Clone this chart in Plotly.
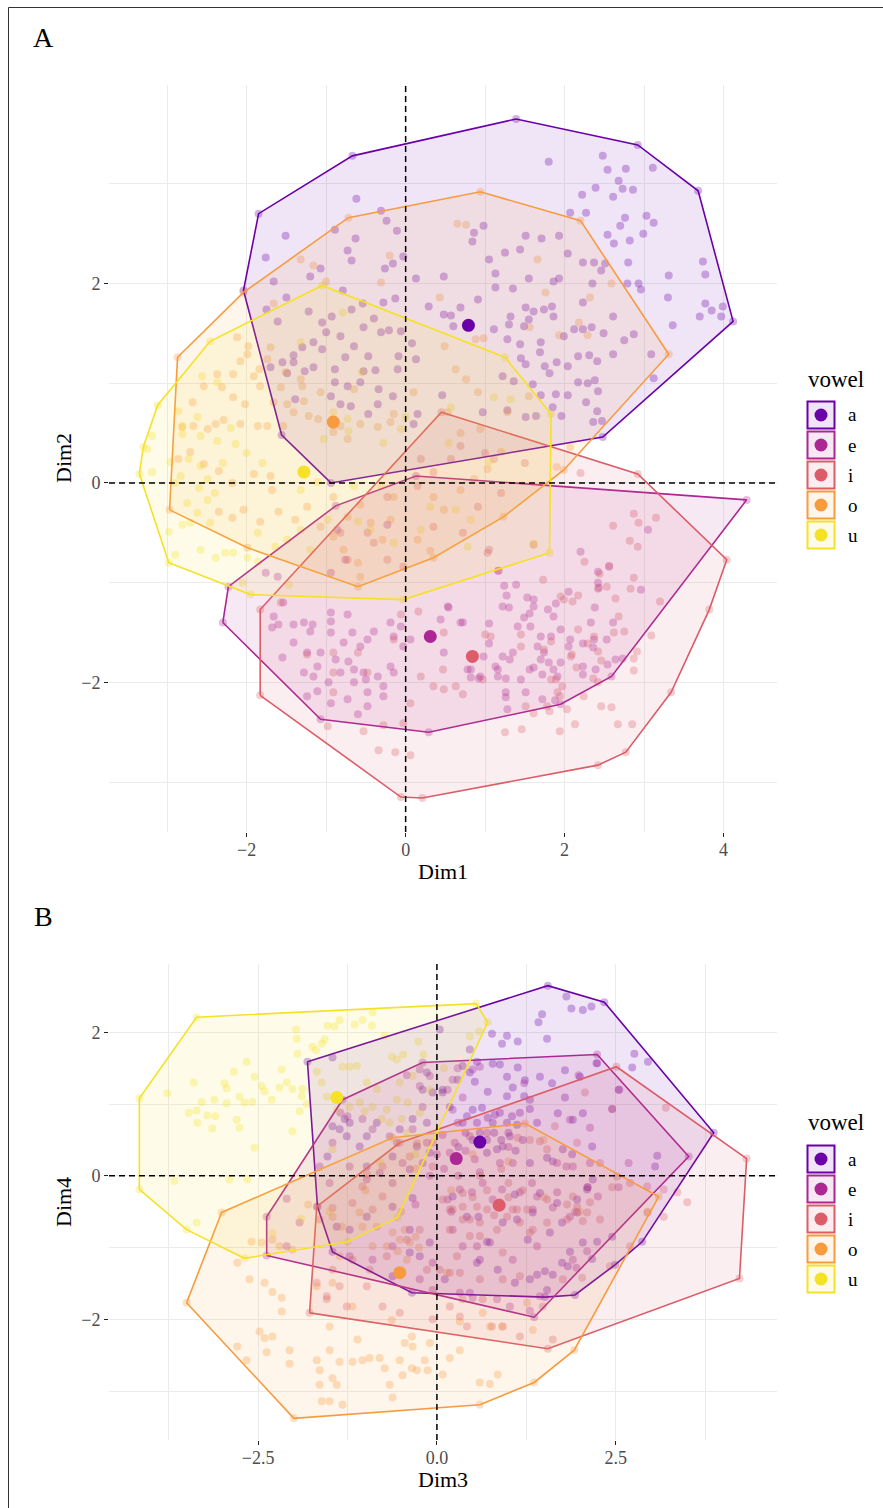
import plotly.graph_objects as go

# ---------------- data ----------------
VOWELS = ["a", "e", "i", "o", "u"]
COLORS = ["#6A00A8", "#AC2694", "#DC5C68", "#F89B3E", "#F5E126"]

# Panel A: (Dim1, Dim2)
A_a = [(-1.85,2.70),(-0.67,3.28),(1.39,3.65),(2.92,3.39),(3.68,2.93),(4.12,1.62),(2.48,0.46),(-0.94,0.00),(-1.56,0.48),(-2.04,1.93),
(1.80,3.22),(2.48,3.28),(2.54,3.14),(2.77,3.15),(2.68,3.03),(2.39,2.96),(2.73,2.95),(2.86,2.94),(2.22,2.89),(2.61,2.87),(3.11,3.16),(2.07,2.71),(2.27,2.71),(2.76,2.66),(3.03,2.68),(2.70,2.58),(3.12,2.61),(2.54,2.49),(2.99,2.50),(2.62,2.40),(2.82,2.43),(2.04,2.30),(1.51,2.48),(1.71,2.45),(1.93,2.48),(1.25,2.31),(1.44,2.34),(1.05,2.24),(0.98,2.58),(0.86,2.51),(0.84,2.42),(2.23,2.21),(2.37,2.21),(2.51,2.20),(2.46,2.13),(2.80,2.21),(2.79,2.00),(2.93,2.00),(2.96,1.94),(3.31,2.08),(3.74,2.22),(3.77,2.09),(3.30,1.86),(3.77,1.80),(3.85,1.73),(3.70,1.67),(3.99,1.77),(3.97,1.67),(3.36,1.58),(3.09,1.29),(3.12,1.05),(2.87,1.49),(2.75,1.43),(2.61,1.29),(2.49,1.50),(2.41,1.22),(2.31,1.28),(2.23,1.54),(2.12,1.54),(2.17,1.27),(2.04,1.17),(1.90,1.21),(1.81,1.10),(1.75,1.17),(1.51,1.19),(1.69,1.31),(1.70,1.41),(1.44,1.39),(1.45,1.25),(1.28,1.44),(1.11,1.54),(1.30,1.59),(1.49,1.57),(1.55,1.64),(1.61,1.72),(1.51,1.76),(1.32,1.67),(1.74,1.74),(1.84,1.77),(1.86,1.67),(1.35,1.95),(1.13,1.96),(1.55,2.05),(1.86,2.02),(1.93,2.05),(2.35,2.00),(2.23,1.81),(2.61,1.67),(2.34,1.56),(1.99,1.47),(2.29,1.00),(2.38,1.03),(2.42,0.92),(2.27,0.81),(2.41,0.72),(2.47,0.62),(2.36,0.61),(2.17,1.01),(2.04,0.88),(1.89,0.89),(1.85,0.76),(1.96,0.67),(1.70,0.88),(1.60,0.99),(1.36,1.02),(1.22,1.07),(1.28,0.73),(1.51,0.66),(1.64,0.67),(0.97,0.71),(0.91,1.84),(0.69,1.76),(0.60,1.57),(0.57,1.68),(0.48,2.07),(1.13,2.10),
(-0.62,2.85),(-1.51,2.48),(-1.76,2.26),(-0.89,2.54),(-0.63,2.45),(-0.73,2.33),(-0.68,2.23),(-0.31,2.73),(-0.24,2.63),(-0.11,2.53),(-0.03,2.27),(-0.16,2.20),(-0.26,2.15),(-1.07,2.15),(-1.20,2.07),(-1.66,2.02),(-1.50,1.86),(-0.79,1.93),(-0.54,1.80),(-0.28,1.81),(-0.13,1.85),(0.13,2.05),(0.29,1.77),(0.48,1.69),(-1.22,1.72),(-1.75,1.74),(-1.61,1.62),(-0.93,1.67),(-1.05,1.61),(-0.68,1.74),(-0.40,1.65),(-0.31,1.51),(-0.21,1.53),(-0.06,1.52),(0.08,1.40),(-0.53,1.56),(-0.65,1.37),(-0.82,1.47),(-1.00,1.51),(-1.05,1.34),(-1.16,1.41),(-1.30,1.36),(-1.41,1.28),(-1.41,1.21),(-1.55,1.21),(-1.70,1.16),(-1.49,1.10),(-1.27,1.12),(-1.16,1.16),(-0.89,1.14),(-0.76,1.26),(-0.53,1.12),(-0.47,1.27),(-0.38,1.13),(-0.57,1.01),(-0.73,0.97),(-0.89,1.01),(-0.34,0.94),(-0.16,0.87),(-0.10,1.14),(-0.09,1.27),(0.13,1.24),(-1.39,0.84),(-0.94,0.87),(-0.82,0.79),(-0.69,0.77),(-0.47,0.69),(-0.35,0.79),(0.15,0.69),(0.10,0.59),(0.46,0.88)]

A_e = [(-2.30,-1.40),(-2.23,-1.04),(-0.88,-0.23),(0.13,0.07),(4.29,-0.17),(2.59,-1.94),(1.95,-2.22),(0.29,-2.50),(-1.07,-2.37),
(-1.61,-0.94),(-1.76,-0.90),(-1.54,-1.20),(-1.66,-1.34),(-1.60,-1.42),(-1.68,-1.45),(-1.41,-1.42),(-1.28,-1.40),(-1.17,-1.42),(-1.20,-1.49),(-0.94,-1.39),(-0.94,-1.30),(-0.73,-1.32),(-1.55,-1.75),(-1.41,-1.60),(-1.24,-1.70),(-1.07,-1.70),(-0.94,-1.50),(-0.78,-1.60),(-0.67,-1.50),(-0.48,-1.57),(-0.40,-1.49),(-0.57,-1.64),(-0.72,-1.79),(-0.88,-1.77),(-1.11,-1.84),(-1.28,-1.90),(-1.16,-1.94),(-0.97,-2.00),(-0.82,-1.90),(-0.65,-1.87),(-0.53,-1.90),(-0.50,-1.97),(-0.65,-2.00),(-0.35,-1.94),(-0.19,-1.84),(-0.15,-1.90),(-0.28,-2.04),(-0.48,-2.10),(-0.73,-2.17),(-0.94,-2.21),(-1.11,-2.09),(-1.24,-2.14),(-0.48,-2.24),(-0.60,-2.32),(-0.28,-2.14),(-0.06,-1.44),(0.06,-1.57),(-0.03,-1.64),(0.44,-1.37),(0.69,-1.40),(0.53,-1.24),(-0.19,-1.40),(-0.15,-1.54),(0.78,-1.87),(0.82,-1.95),(0.94,-1.94),(1.16,-1.87),(-0.94,-0.90),(-0.76,-0.77),(-0.23,-0.42),(-0.86,-0.47),
(2.20,-0.69),(2.42,-1.00),(2.43,-1.05),(2.05,-1.09),(2.96,-1.07),(3.05,-0.47),(1.39,-1.02),(1.24,-1.03),(1.27,-1.13),(1.22,-1.24),(1.30,-1.25),(1.53,-1.15),(1.61,-1.17),(1.61,-1.24),(1.56,-1.31),(1.49,-1.35),(1.41,-1.44),(1.57,-1.44),(1.70,-1.54),(1.83,-1.54),(1.79,-1.27),(1.89,-1.21),(1.86,-1.34),(2.33,-1.40),(2.38,-1.25),(2.61,-1.40),(2.53,-1.57),(2.37,-1.57),(2.36,-1.65),(2.23,-1.61),(2.07,-1.57),(2.05,-1.64),(1.95,-1.47),(1.66,-1.64),(1.74,-1.70),(1.70,-1.77),(1.80,-1.80),(1.95,-1.80),(1.86,-1.87),(1.91,-1.94),(1.72,-1.92),(1.61,-1.85),(1.56,-1.87),(1.45,-1.97),(1.35,-1.70),(1.31,-1.77),(1.22,-1.74),(1.13,-1.84),(1.16,-1.94),(1.26,-1.96),(0.98,-1.74),(1.05,-1.61),(2.23,-1.84),(2.23,-1.92),(2.39,-1.87),(2.54,-1.82),(2.64,-1.77),(2.73,-1.76),(1.26,-2.10),(1.26,-2.15),(1.28,-2.27),(1.51,-2.10),(1.72,-2.17),(1.88,-2.18),(2.42,-0.89),(2.56,-0.84),(0.48,-1.70),(0.54,-1.25),(0.72,-1.40),(1.05,-1.41),(0.82,-1.87),(0.92,-1.96),(1.17,-0.88)]

A_i = [(-1.83,-1.27),(-1.83,-2.13),(-0.06,-3.15),(0.21,-3.16),(2.42,-2.83),(2.77,-2.70),(3.34,-2.10),(3.82,-1.27),(4.04,-0.77),(2.92,0.09),(0.45,0.71),
(2.87,-0.31),(2.93,-0.40),(3.15,-0.35),(2.61,-0.43),(2.82,-0.58),(2.92,-0.64),(2.25,-0.79),(2.56,-0.83),(2.44,-0.91),(2.53,-1.04),(2.42,-1.06),(2.83,-1.06),(2.87,-0.95),(2.64,-1.16),(3.20,-1.19),(2.68,-1.34),(2.62,-1.50),(2.75,-1.49),(3.09,-1.53),(2.91,-1.69),(2.87,-1.76),(2.87,-1.88),(2.42,-1.69),(2.29,-1.61),(2.15,-1.85),(2.09,-1.72),(2.42,-2.00),(2.24,-2.14),(2.46,-2.24),(2.59,-2.25),(2.67,-2.42),(2.85,-2.42),(2.13,-2.42),(2.03,-2.27),(1.94,-2.49),(1.46,-2.47),(1.25,-2.50),(1.51,-2.24),(1.61,-2.31),(1.81,-2.29),(1.91,-2.10),(1.97,-2.04),(1.83,-1.97),(1.45,-1.52),(1.07,-1.54),(1.00,-1.52),(0.72,-2.12),(0.63,-2.04),(0.48,-1.50),(0.48,-2.07),(0.47,-1.87),(2.37,-1.54),(2.17,-1.47),(2.08,-1.74),(2.46,-1.78),(2.36,-1.96),(1.95,-1.14),(2.17,-1.13),(1.99,-1.17),(2.10,-1.19),(1.61,-0.62),(1.16,-0.88),(1.05,-0.67),(1.73,-0.97),(1.45,-1.64),(1.74,-1.67),(1.83,-1.59),(1.89,-1.97),(1.78,-2.24),(1.94,-2.14),
(-1.57,-1.20),(-1.24,-1.72),(-0.91,-1.70),(-0.60,-1.70),(-0.91,-1.90),(-0.48,-1.90),(-0.91,-2.10),(-0.98,-2.44),(-0.53,-2.49),(-0.34,-2.68),(-0.13,-2.70),(0.06,-2.73),(-0.03,-2.41),(0.19,-1.94),(0.35,-2.04),(0.97,-1.97),(-0.28,-2.43),(0.06,-2.21),(-0.15,-1.57),(-0.06,-1.32),(0.16,-1.29),(-0.23,-0.14),(0.15,-0.03),(-0.82,-0.50),(-0.48,-0.50),(-0.40,-0.60),(-0.23,-0.77),(-0.73,-0.77),(-0.03,-0.84),(0.35,-0.44),(1.03,-0.70),(0.72,-0.50),(0.91,-0.24),(1.11,0.24),(0.35,0.11),(0.57,0.24),(0.69,0.37),(0.19,0.24),(1.00,0.30),(1.50,0.20),(2.20,0.10),(1.20,-0.10)]

A_o = [(-2.87,1.26),(-2.04,1.91),(-0.72,2.66),(0.94,2.92),(2.20,2.63),(3.31,1.29),(1.99,0.13),(1.23,-0.34),(0.35,-0.75),(-0.60,-1.04),(-1.99,-0.65),(-2.97,-0.27),
(-1.32,2.24),(-1.16,2.18),(-1.00,2.02),(-0.31,2.01),(-0.20,2.28),(0.43,1.86),(-1.66,1.80),(-2.12,1.46),(-1.98,1.37),(-1.99,1.29),(-2.08,1.22),(-1.70,1.36),(-1.74,1.24),(-1.84,1.14),(-1.91,1.07),(-2.17,1.09),(-2.37,1.09),(-2.54,0.97),(-2.31,0.96),(-2.17,0.86),(-2.02,0.79),(-1.83,0.97),(-1.57,0.96),(-1.51,1.11),(-1.32,1.04),(-1.30,0.97),(-1.66,0.81),(-1.49,0.79),(-1.28,0.82),(-1.22,0.67),(-1.41,0.71),(-1.54,0.57),(-1.74,0.57),(-1.86,0.57),(-2.08,0.59),(-2.29,0.63),(-2.39,0.59),(-2.49,0.54),(-2.67,0.57),(-2.81,0.56),(-2.68,0.81),(-0.82,0.57),(-0.57,0.59),(-0.35,0.56),(-0.19,0.61),(0.10,0.91),(-0.15,0.69),(-0.65,0.94),(-1.07,0.91),(-1.10,0.64),(-0.73,0.44),(-0.91,0.51),
(-2.86,0.24),(-2.71,0.31),(-2.54,0.19),(-2.35,0.12),(-2.18,0.00),(-1.91,0.09),(-1.70,0.07),(-1.68,-0.07),(-2.04,-0.27),(-2.35,-0.29),(-2.18,-0.35),(-1.83,-0.39),(-1.60,-0.29),(-1.39,-0.37),(-1.24,-0.24),(-1.07,-0.44),(-0.91,-0.54),(-0.78,-0.67),(-0.60,-0.80),(-0.57,-0.94),(-0.44,-0.40),(-0.29,-0.57),(-0.19,-0.37),(-0.15,-0.14),(-0.91,-0.14),(-0.73,-0.34),(-0.57,-0.22),(0.15,-0.57),(0.31,-0.68),(0.35,-0.14),(0.48,-0.27),(0.69,-0.07),(0.86,0.04),(1.03,0.14),(1.20,0.31),
(0.65,2.60),(0.76,2.59),(1.66,2.24),(1.76,1.91),(2.59,2.00),(2.32,1.86),(2.18,1.61),(2.29,1.48),(1.93,1.48),(1.56,1.56),(0.98,1.45),(0.88,1.44),(0.49,1.37),(0.63,1.14),(0.76,1.04),(0.91,0.91),(1.55,0.87),(2.07,0.36),(1.90,0.16),(1.28,0.71),(0.94,0.54),(0.69,0.50),(0.53,0.71)]

A_u = [(-1.05,1.98),(-2.46,1.42),(-3.12,0.78),(-3.30,0.36),(-3.35,0.09),(-2.98,-0.80),(-1.95,-1.12),(-0.03,-1.17),(1.81,-0.70),(1.83,0.69),(1.25,1.26),
(-2.56,1.07),(-2.37,1.01),(-2.86,0.72),(-2.81,0.57),(-2.62,0.66),(-2.81,0.49),(-2.58,0.47),(-2.37,0.42),(-2.14,0.39),(-3.19,0.47),(-0.79,1.71),(-1.32,1.41),(-0.55,1.11),(-0.73,0.64),(-0.72,0.52),(-0.91,0.71),(-1.03,0.44),(-0.28,0.40),(0.00,0.66),(-0.06,0.54),
(-3.25,0.34),(-3.19,0.11),(-2.96,0.21),(-2.83,0.07),(-2.73,0.24),(-2.58,0.17),(-2.49,0.04),(-2.98,-0.49),(-2.81,-0.42),(-2.71,-0.40),(-2.90,-0.72),(-2.58,-0.67),(-2.39,-0.75),(-2.27,-0.70),(-2.17,-0.70),(-1.99,-0.75),(-1.86,-0.79),(-1.64,-0.64),(-1.47,-1.02),(-2.05,-1.00),(-2.49,-0.17),(-2.62,-0.30),(-2.46,-0.40),(-2.75,-0.20),(-1.86,-0.50),(-1.49,-0.57),(-1.32,-0.47),(-1.20,-0.67),(-0.98,-0.37),(-0.60,-0.39),(-0.44,-0.47),(-0.15,-0.60),(0.19,-0.47),(0.31,-0.24),(0.63,-0.27),(0.82,-0.37),(0.78,-0.64),(-1.32,-0.07),(-1.11,0.01),(-0.65,-0.03),(-0.31,-0.03),(1.11,0.86),(1.32,0.84),(0.57,0.76),(0.54,0.40),(1.05,0.21),(1.61,-0.61),
(-2.30,0.20),(-2.20,0.55),(-2.00,0.30),(-1.80,0.20),(-2.60,-0.05),(-2.90,0.00),(-2.40,-0.10)]

A_centroids = [(0.79,1.58),(0.31,-1.54),(0.84,-1.74),(-0.91,0.61),(-1.28,0.11)]

# Panel B: (Dim3, Dim4)
B_a = [(-1.81,1.59),(1.55,2.65),(2.34,2.42),(3.87,0.60),(2.87,-0.92),(2.49,-1.24),(1.93,-1.66),(1.51,-1.69),(-0.35,-1.63),(-1.46,-1.06),(-1.67,-0.43),
(1.81,2.50),(1.88,2.33),(2.04,2.31),(2.16,2.36),(1.47,2.25),(1.42,2.14),(1.54,1.91),(1.13,1.87),(0.91,1.84),(0.98,1.95),(0.77,1.98),(2.76,1.70),(2.95,1.59),(2.73,1.51),(1.79,1.47),(2.00,1.38),(2.24,1.57),(1.44,1.38),(1.61,1.29),(1.23,1.33),(0.98,1.38),(0.88,1.55),(0.78,1.56),(1.13,1.51),(0.56,1.59),(0.46,1.44),(0.36,1.53),(0.29,1.34),(0.53,1.31),(0.71,1.17),(0.98,1.11),(1.06,1.23),(1.22,1.11),(1.30,1.06),(1.79,1.09),(2.54,1.20),(2.45,0.93),(2.04,0.87),(1.90,0.78),(1.69,0.87),(1.40,0.74),(1.30,0.93),(1.16,0.88),(1.05,0.83),(0.88,0.88),(0.81,0.85),(0.71,0.81),(0.63,0.95),(0.50,0.92),(0.42,0.83),(0.36,0.74),(0.56,0.74),(0.78,0.74),(0.98,0.74),(1.12,0.71),(2.17,0.41),(3.08,0.28),(3.05,0.13),(1.54,0.25),(1.62,0.20),(1.30,0.18),(1.76,0.37),(1.89,0.30),(2.18,-0.05),(2.11,-0.16),(1.96,-0.51),(1.02,0.55),(0.92,0.41),(0.84,0.37),(0.70,0.32),(0.08,1.16),(0.04,2.04),(0.46,1.76),(0.18,0.96),
(-1.46,1.65),(-1.29,0.79),(-1.46,0.69),(-1.36,0.65),(-1.22,0.74),(-1.26,0.55),(-0.98,0.55),(-1.53,0.27),(-1.08,0.41),(-0.84,0.74),(-0.20,1.20),(-0.06,1.16),(-0.14,1.44),(0.08,1.20),(-0.34,0.79),(-0.14,0.74),(-0.52,0.65),(-0.62,0.27),(-0.28,0.41),(-0.10,0.32),(-0.38,0.09),(-0.98,0.13),
(-0.62,-0.43),(-0.34,-0.31),(0.22,-0.29),(0.42,-0.57),(0.74,-0.93),(0.60,-1.17),(-0.10,-0.93),(-0.24,-1.12),(-1.40,-0.71),(-1.22,-0.75),(-0.98,-0.57),(-0.38,-0.75),(-0.38,-1.07),(0.11,-1.44),(-0.62,-1.40),
(0.58,-0.57),(0.70,-0.92),(0.56,-1.21),(0.85,-1.31),(1.09,-1.49),(1.30,-1.44),(1.40,-1.38),(1.51,-1.33),(1.62,-1.38),(1.54,-1.59),(1.83,-1.26),(1.75,-1.21),(1.86,-1.06),(2.04,-0.93),(2.24,-0.92),(2.17,-1.16),(2.45,-0.85),(1.75,-0.65),(1.58,-0.79),(1.27,-0.89),(1.34,-0.51),(1.12,-0.61),(0.92,-0.65),(1.09,-0.26),(1.44,-0.24),(1.68,-0.38),(1.96,-0.33),(2.10,-0.19),
(0.60,0.60),(0.80,0.60),(1.00,0.60),(0.40,0.60),(0.50,0.50),(0.70,0.50),(0.90,0.50),(1.20,0.50),(0.30,0.40),(1.10,0.35)]

B_e = [(-1.32,1.06),(-0.20,1.58),(2.24,1.69),(3.52,0.27),(1.36,-1.97),(-2.38,-1.11),(-2.38,-0.57),
(2.23,1.57),(1.98,1.40),(1.22,1.29),(2.55,1.20),(1.86,0.78),(2.14,0.67),(1.68,0.18),(1.81,0.13),(1.90,0.13),(2.14,0.18),(2.10,-0.16),(2.25,-0.29),(2.54,-0.16),(2.68,0.18),(1.06,0.18),(0.88,0.18),(0.53,0.23),(0.46,0.55),(0.25,0.46),(0.18,0.32),(0.08,0.57),(0.29,0.74),(0.22,0.92),(0.36,1.09),(0.15,1.20),(0.22,1.34),(0.50,1.48),(0.60,1.52),(0.29,1.50),(1.16,-0.23),(1.33,-0.10),(1.40,-0.29),(1.68,-0.23),(0.91,-0.19),(0.64,-0.10),(0.78,-0.33),(0.49,-0.23),(0.32,-0.19),(0.15,-0.33),(1.34,-0.47),(1.62,-0.44),(1.86,-0.57),
(-1.35,0.88),(-1.25,0.83),(-1.04,0.79),(-0.90,0.65),(-0.66,0.55),(-0.56,0.46),(-0.34,0.65),(-0.14,0.46),(-0.20,0.96),(-0.24,1.25),(-0.10,1.39),(-0.24,1.48),(-0.42,1.40),(-1.46,0.46),(-1.64,0.13),(-1.50,-0.10),(-1.22,0.13),(-0.98,-0.05),(-0.80,0.04),(-0.62,-0.10),(-0.48,0.18),(-0.20,0.18),
(-2.10,-0.32),(-1.92,-0.65),(-2.10,-0.98),(-0.52,-1.35),(-0.24,-1.44),(-0.06,-1.59),(0.32,-1.63),(0.50,-1.70),(-1.22,-1.12),(-0.90,-1.17),(-0.62,-0.98),(-0.06,-1.21),(0.56,-0.98),
(0.46,-1.63),(0.84,-1.72),(1.02,-1.82),(1.30,-1.88),(1.44,-1.68),(1.90,-1.17),(1.95,-1.28),(2.10,-1.05),(1.40,-0.98),(1.06,-1.17),(0.36,-0.98),(0.22,-0.75),
(0.10,0.10),(0.30,0.00),(0.00,0.30),(0.40,0.35),(-0.10,0.00),(0.60,0.05),(0.20,-0.50),(-0.30,-0.40),(0.70,0.60),(1.00,0.40)]

B_i = [(2.51,1.52),(4.33,0.24),(4.23,-1.43),(1.55,-2.41),(-1.78,-1.91),(-1.68,-0.43),(-0.52,0.46),
(2.07,1.16),(2.45,0.93),(3.20,0.95),(1.13,0.53),(1.30,0.50),(1.44,0.48),(1.65,0.69),(1.54,0.37),(1.96,0.46),(2.28,0.18),(2.52,-0.01),(2.70,-0.10),(2.94,-0.15),(3.17,-0.19),(3.36,-0.23),(3.50,-0.37),(3.17,-0.57),(1.90,-0.29),(1.96,-0.43),(1.54,-0.33),(1.26,-0.47),(1.06,-0.47),(0.88,-0.37),(0.70,-0.47),(0.56,-0.43),(0.36,-0.43),(0.98,-0.57),(1.16,-0.65),(1.34,-0.75),(0.84,-0.75),(0.60,-0.65),(0.36,-0.61),(0.18,-0.47),(0.18,-0.75),(0.46,-0.84),(1.54,-0.65),(1.82,-0.61),(2.14,-0.37),
(1.82,-0.40),(1.93,-0.50),(2.10,-0.51),(2.04,-0.63),(2.28,-0.61),(2.45,-0.16),(2.94,-0.51),(2.70,-0.98),(2.42,-1.26),(2.03,-1.42),(1.76,-1.44),(1.48,-1.82),(1.62,-2.28),(1.16,-2.24),(0.92,-2.10),(0.77,-2.10),(0.64,-1.72),(0.36,-1.72),(0.18,-1.82),(0.60,-1.44),(0.92,-1.44),(1.16,-1.40),(0.32,-1.35),(0.04,-1.31),(0.28,-1.12),(0.92,-1.07),(0.60,-0.84),(0.46,-0.61),(0.22,-0.47),(0.08,-0.33),(0.36,-0.24),(1.12,-0.47),(1.30,-0.79),
(-1.64,-0.61),(-1.46,-0.45),(-1.18,-0.38),(-0.90,-0.47),(-0.76,-0.29),(-0.42,-0.89),(-0.24,-0.75),(-0.14,-1.31),(0.18,-1.35),(-0.70,-1.12),(-0.94,-1.31),(-1.18,-1.17),(-1.46,-1.31),(-1.68,-1.49),(-1.54,-1.72),(-1.26,-1.82),(-0.76,-1.82),(-0.52,-1.91),(-0.06,-2.00),(0.32,-1.96),(0.42,-2.10),(-1.54,-1.68),(-1.36,-1.54),(-0.98,-1.54),
(-0.98,0.02),(-0.38,0.27),(-0.76,0.13),(-0.06,0.13),(-1.04,-0.15),(-0.28,0.45),(-0.06,0.46),
(0.70,-0.20),(1.00,-0.30),(0.80,-0.55),(1.20,-0.20),(0.50,-0.30),(1.00,-0.10),(0.90,0.10),(0.60,0.00)]

B_o = [(3.10,-0.29),(1.23,0.73),(-0.62,0.53),(-3.01,-0.51),(-3.50,-1.77),(-2.00,-3.38),(0.60,-3.19),(1.36,-2.88),(1.92,-2.43),
(-2.59,-0.92),(-2.45,-0.93),(-2.30,-0.89),(-2.20,-0.98),(-2.02,-1.03),(-2.79,-1.21),(-2.62,-1.44),(-2.41,-1.49),(-2.30,-1.62),(-2.17,-1.70),(-2.17,-1.89),(-2.48,-2.17),(-2.41,-2.26),(-2.30,-2.24),(-2.79,-2.38),(-2.66,-2.57),(-2.38,-2.46),(-2.06,-2.43),(-2.06,-2.62),(-1.68,-2.57),(-1.50,-2.43),(-1.36,-2.59),(-1.64,-2.71),(-1.46,-2.82),(-1.40,-2.91),(-1.64,-2.91),(-1.61,-3.14),(-1.50,-3.14),(-1.32,-3.19),(-0.62,-3.09),(-0.66,-2.91),(-1.18,-2.59),(-1.04,-2.57),(-0.94,-2.54),(-0.80,-2.54),(-0.73,-2.68),(-0.52,-2.57),(-0.48,-2.78),(-0.35,-2.68),(-0.28,-2.71),(-0.13,-2.71),(-0.17,-2.57),(-0.34,-2.38),(-0.45,-2.33),(-0.35,-2.24),(-0.10,-2.33),(0.18,-2.54),(-0.63,-2.01),(-1.11,-2.28),(-1.50,-2.10),(0.60,-2.88),(0.74,-2.90),(0.85,-2.77),(0.32,-2.03),(0.32,-2.43),
(-1.46,-0.57),(-1.33,-0.71),(-1.08,-0.51),(-1.04,-0.71),(-0.84,-0.71),(-0.52,-0.89),(-0.38,-0.93),(-0.42,-1.17),(-0.70,-0.98),(-0.62,-0.79),(-0.90,-0.98),(-1.36,-1.12),(-1.46,-1.49),(-1.18,-1.82),(0.14,-1.35),(-1.68,-1.54),
(0.64,-1.91),(0.74,-2.10),(0.91,-2.10),(0.08,-2.77),(1.26,-1.77),(1.34,-2.15),(2.95,-0.50),(1.49,0.50),
(0.50,0.30),(1.00,0.20),(1.50,-0.30),(2.00,-0.50),(0.20,-0.20),(-0.30,0.10),(-1.00,-0.20),(-1.80,-0.40),(-0.50,-0.50),(-0.45,-0.75),(-0.30,-0.85),(-0.55,-1.05),(-0.25,-1.00)]

B_u = [(-3.36,2.21),(-4.16,1.08),(-4.16,-0.19),(-3.50,-0.75),(-2.69,-1.15),(-1.25,-0.92),(-0.55,-0.58),(0.71,2.14),(0.55,2.40),
(-0.90,2.28),(-1.36,2.17),(-1.53,2.09),(-1.43,2.08),(-1.15,2.11),(-1.04,2.17),(-0.91,2.09),(-1.97,2.04),(-1.96,1.91),(-1.57,1.90),(-1.61,1.84),(-1.74,1.80),(-1.69,1.75),(-1.95,1.70),(-2.66,1.59),(-2.84,1.45),(-2.55,1.38),(-3.40,1.30),(-2.97,1.29),(-2.94,1.22),(-2.45,1.25),(-2.41,1.18),(-2.17,1.48),(-2.31,1.06),(-2.76,1.10),(-2.69,1.02),(-2.58,1.03),(-3.11,1.06),(-3.29,1.03),(-2.94,1.01),(-3.47,0.88),(-3.36,0.91),(-3.21,0.84),(-3.10,0.83),(-3.35,0.74),(-3.77,1.15),(-2.80,0.78),(-2.76,0.67),(-3.14,0.66),(-2.55,0.39),(-2.02,0.62),(-2.90,-0.05),(-2.65,-0.05),(-3.67,-0.07),(-2.10,1.30),(-2.02,1.21),(-1.88,1.21),(-1.89,1.11),(-1.82,1.00),(-1.92,0.90),(-2.20,1.23),
(-1.32,1.52),(-1.22,1.52),(-1.12,1.53),(-0.98,1.30),(-0.84,1.21),(-0.63,1.66),(-0.56,1.62),(-0.47,1.69),(-0.26,1.87),(-0.19,1.69),(-0.73,1.95),(-0.34,1.39),(-0.52,1.30),(-0.56,1.06),(-0.70,0.92),(-0.90,0.96),(-1.08,1.02),(-1.22,0.96),(-1.54,1.10),(-1.61,1.30),(-1.68,1.45),(-1.40,0.92),(-1.01,0.90),(-0.77,0.79),(-0.66,0.74),(-0.49,0.79),(-0.41,1.02),(-0.24,0.88),(-0.42,0.60),(-1.46,0.37),(0.59,2.01),(0.46,1.94),(-3.36,-0.65),
(-0.10,1.20),(0.10,1.50),(-0.30,0.30),(-0.80,0.20),(-1.90,-0.60),(-2.30,-0.80),(-1.50,-0.50)]

B_centroids = [(0.60,0.47),(0.27,0.24),(0.87,-0.41),(-0.52,-1.35),(-1.40,1.09)]

PANEL_A = [A_a, A_e, A_i, A_o, A_u]
PANEL_B = [B_a, B_e, B_i, B_o, B_u]

# ---------------- helpers ----------------
W, H = 883, 1508
SERIF = "Liberation Serif, Times New Roman, serif"

def px(x):
    return x / W

def py(y):
    return 1 - y / H

def rgba(hexc, a):
    h = hexc.lstrip("#")
    r, g, b = int(h[0:2], 16), int(h[2:4], 16), int(h[4:6], 16)
    return f"rgba({r},{g},{b},{a})"

def convex_hull(points):
    pts = sorted(set(points))
    if len(pts) <= 2:
        return pts
    def cross(o, a, b):
        return (a[0]-o[0])*(b[1]-o[1]) - (a[1]-o[1])*(b[0]-o[0])
    lower, upper = [], []
    for p in pts:
        while len(lower) >= 2 and cross(lower[-2], lower[-1], p) <= 0:
            lower.pop()
        lower.append(p)
    for p in reversed(pts):
        while len(upper) >= 2 and cross(upper[-2], upper[-1], p) <= 0:
            upper.pop()
        upper.append(p)
    return lower[:-1] + upper[:-1]

def expanded_range(groups, k):
    vals = [p[k] for g in groups for p in g]
    lo, hi = min(vals), max(vals)
    pad = 0.05 * (hi - lo)
    return [lo - pad, hi + pad]

fig = go.Figure()

def add_panel(groups, centroids, xa, ya):
    for pts, col in zip(groups, COLORS):
        fig.add_trace(go.Scatter(
            x=[p[0] for p in pts], y=[p[1] for p in pts], mode="markers",
            marker=dict(size=8, color=rgba(col, 0.3), line=dict(width=0)),
            xaxis=xa, yaxis=ya, showlegend=False, hoverinfo="skip"))
    for pts, col in zip(groups, COLORS):
        hull = convex_hull(pts)
        hull = hull + [hull[0]]
        fig.add_trace(go.Scatter(
            x=[p[0] for p in hull], y=[p[1] for p in hull], mode="lines",
            fill="toself", fillcolor=rgba(col, 0.1),
            line=dict(color=col, width=1.6),
            xaxis=xa, yaxis=ya, showlegend=False, hoverinfo="skip"))
    for c, col in zip(centroids, COLORS):
        fig.add_trace(go.Scatter(
            x=[c[0]], y=[c[1]], mode="markers",
            marker=dict(size=13, color=col, line=dict(width=0)),
            xaxis=xa, yaxis=ya, showlegend=False, hoverinfo="skip"))

add_panel(PANEL_A, A_centroids, "x", "y")
add_panel(PANEL_B, B_centroids, "x2", "y2")

XDOM = [px(109), px(777)]
grid = dict(showgrid=True, gridcolor="#EBEBEB", gridwidth=1.3, zeroline=False,
            showline=False, ticks="outside", ticklen=4, tickwidth=1.4,
            tickcolor="#222222", tickfont=dict(family=SERIF, size=18, color="#4D4D4D"))

def minor(d):
    return dict(dtick=d, tick0=0, showgrid=True, gridcolor="#EBEBEB", gridwidth=0.7, ticks="")

fig.update_layout(
    width=W, height=H, margin=dict(l=0, r=0, t=0, b=0, autoexpand=False),
    paper_bgcolor="white", plot_bgcolor="white",
    xaxis=dict(domain=XDOM, range=expanded_range(PANEL_A, 0), anchor="y",
               tick0=0, dtick=2, minor=minor(1), ticklabelstandoff=-3, **grid),
    yaxis=dict(domain=[py(832), py(85)], range=expanded_range(PANEL_A, 1), anchor="x",
               tick0=0, dtick=2, minor=minor(1), **grid),
    xaxis2=dict(domain=XDOM, range=expanded_range(PANEL_B, 0), anchor="y2",
                tick0=0, dtick=2.5, tickformat=".1f", minor=minor(1.25), ticklabelstandoff=-3, **grid),
    yaxis2=dict(domain=[py(1440), py(964)], range=expanded_range(PANEL_B, 1), anchor="x2",
                tick0=0, dtick=2, minor=minor(1), **grid),
)

shapes = []
# dashed zero reference lines
for xa, ya in (("x", "y"), ("x2", "y2")):
    shapes.append(dict(type="line", xref=f"{xa} domain", yref=ya, x0=0, x1=1, y0=0, y1=0,
                       line=dict(color="black", width=1.5, dash="6px,4px"), layer="above"))
    shapes.append(dict(type="line", xref=xa, yref=f"{ya} domain", x0=0, x1=0, y0=0, y1=1,
                       line=dict(color="black", width=1.5, dash="6px,4px"), layer="above"))

# outer frame
shapes.append(dict(type="rect", xref="paper", yref="paper", x0=px(8.5), x1=1.05,
                   y0=-0.05, y1=py(7.5), line=dict(color="#333333", width=1), fillcolor="rgba(0,0,0,0)"))

annotations = []
def text(s, x, y, size, **kw):
    annotations.append(dict(text=s, x=px(x), y=py(y), xref="paper", yref="paper",
                            showarrow=False, font=dict(family=SERIF, size=size, color="black"), **kw))

text("A", 43, 38, 28, xanchor="center", yanchor="middle")
text("B", 43, 916, 28, xanchor="center", yanchor="middle")
text("Dim1", 443, 871, 22, xanchor="center", yanchor="middle")
text("Dim2", 63, 458, 22, xanchor="center", yanchor="middle", textangle=-90)
text("Dim3", 443, 1479, 22, xanchor="center", yanchor="middle")
text("Dim4", 63, 1202, 22, xanchor="center", yanchor="middle", textangle=-90)

# manual legends (box with hull colours + centroid dot)
for title_y, first_y in ((379, 415), (1122, 1159)):
    text("vowel", 806, title_y, 23, xanchor="left", yanchor="middle")
    for k, (v, col) in enumerate(zip(VOWELS, COLORS)):
        cy = first_y + 30 * k
        shapes.append(dict(type="rect", xref="paper", yref="paper",
                           x0=px(807.5), x1=px(834.5), y0=py(cy + 13.5), y1=py(cy - 13.5),
                           line=dict(color=col, width=2), fillcolor=rgba(col, 0.1), layer="above"))
        shapes.append(dict(type="circle", xref="paper", yref="paper",
                           x0=px(821 - 6.5), x1=px(821 + 6.5), y0=py(cy + 6.5), y1=py(cy - 6.5),
                           line=dict(width=0), fillcolor=col, layer="above"))
        text(v, 846, cy, 19, xanchor="left", yanchor="middle")

fig.update_layout(shapes=shapes, annotations=annotations)
fig.write_html("out.html", config={"displayModeBar": False},
               post_script="document.body.style.margin='0';document.body.style.padding='0';")
